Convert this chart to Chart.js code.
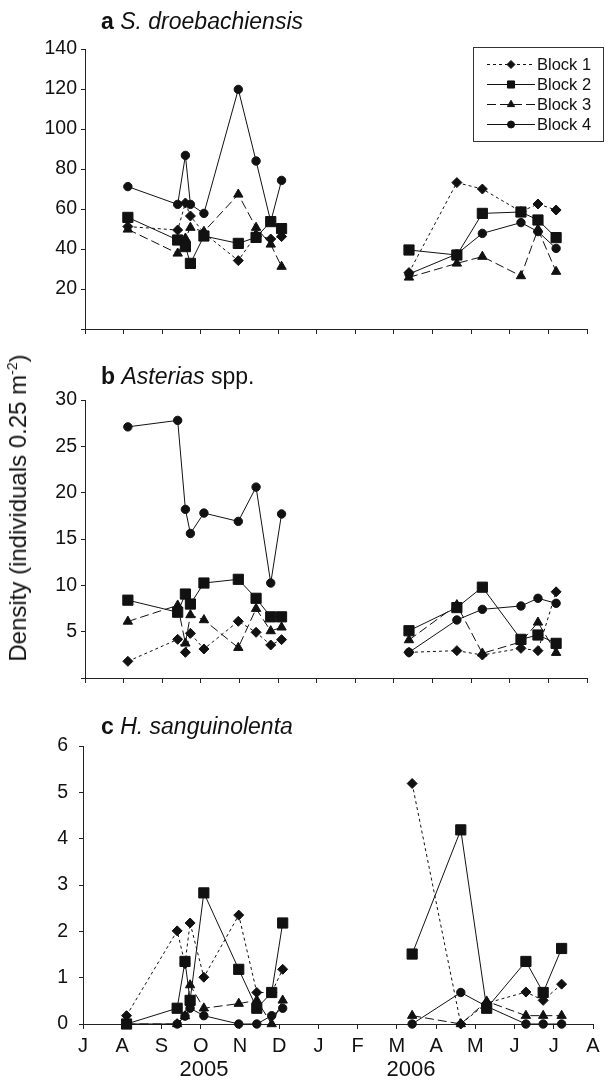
<!DOCTYPE html>
<html>
<head>
<meta charset="utf-8">
<script src="https://cdn.jsdelivr.net/npm/chart.js@4.4.1/dist/chart.umd.min.js"></script>
<style>
  body {
    margin: 0;
    width: 605px;
    height: 1081px;
    position: relative;
    overflow: hidden;
    background: #fff;
    color: #111;
    font-family: "Liberation Sans", Arial, sans-serif;
  }
  canvas { position: absolute; left: 0; }
  .title {
    position: absolute;
    left: 101px;
    font-size: 23px;
    line-height: 23px;
    white-space: nowrap;
  }
  .year {
    position: absolute;
    font-size: 22px;
    line-height: 22px;
    transform: translateX(-50%);
  }
  #yTitle {
    position: absolute;
    left: 18px;
    top: 508px;
    font-size: 24px;
    line-height: 24px;
    white-space: nowrap;
    transform: translate(-50%, -50%) rotate(-90deg);
  }
  #yTitle sup { font-size: 14px; vertical-align: 9px; line-height: 0; }
</style>
</head>
<body>

<canvas id="panelA" width="605" height="345" style="top:0px"></canvas>
<canvas id="panelB" width="605" height="350" style="top:345px"></canvas>
<canvas id="panelC" width="605" height="386" style="top:695px"></canvas>

<div class="title" style="top:10px"><b>a</b> <i>S. droebachiensis</i></div>
<div class="title" style="top:365px"><b>b</b> <i>Asterias</i> spp.</div>
<div class="title" style="top:715px"><b>c</b> <i>H. sanguinolenta</i></div>
<div id="yTitle">Density (individuals 0.25 m<sup>-2</sup>)</div>
<div class="year" style="left:204px; top:1058px">2005</div>
<div class="year" style="left:411px; top:1058px">2006</div>

<script>
// x axis: months since 1 July 2005
const monthLetters = ["J", "A", "S", "O", "N", "D", "J", "F", "M", "A", "M", "J", "J", "A"];
const sampleMonths = [1.11, 2.40, 2.60, 2.73, 3.08, 3.97, 4.43, 4.81, 5.09,
                      8.39, 9.63, 10.29, 11.29, 11.73, 12.20];
const blockNames = ["Block 1", "Block 2", "Block 3", "Block 4"];

// a S. droebachiensis
const urchinBlock1 = [51.2, 49.5, 63, 56.5, 48, 34.2, 47, 45, 46.2, 28.2, 73.2, 70, 58.7, 62.5, 59.5];
const urchinBlock2 = [55.8, 44.5, 41.2, 32.8, 46.5, 42.8, 45.8, 53.7, 50.2, 39.5, 37, 57.8, 58.5, 54.5, 45.7];
const urchinBlock3 = [49.8, 37.8, 45.3, 50.7, 48.7, 67.3, 50.7, 42.3, 31.2, 25.8, 32.8, 36.2, 26.5, 49.8, 28.7];
const urchinBlock4 = [71.2, 62.3, 86.8, 62.3, 57.8, 119.8, 84, 53.7, 74.3, 27.5, 37.5, 47.8, 53.2, 48.7, 40.3];

// b Asterias spp.
const starBlock1 = [1.8, 4.17, 2.77, 4.82, 3.13, 6.12, 4.93, 3.56, 4.14, 2.77, 2.95, 2.48, 3.2, 2.95, 9.3];
const starBlock2 = [8.4, 7.1, 9.06, 7.98, 10.25, 10.65, 8.6, 6.6, 6.6, 5.1, 7.6, 9.8, 4.17, 4.64, 3.74];
const starBlock3 = [6.1, 7.84, 3.74, 6.8, 6.26, 3.27, 7.48, 5.07, 5.47, 4.1, 7.88, 2.66, 3.9, 6.0, 2.73];
const starBlock4 = [27.1, 27.8, 18.2, 15.6, 17.8, 16.9, 20.6, 10.25, 17.7, 2.77, 6.26, 7.41, 7.77, 8.6, 8.06];

// c H. sanguinolenta
const slugBlock1 = [0.18, 2.01, 1.3, 2.18, 1.01, 2.35, 0.68, 0.68, 1.18, 5.19, 0, 0.45, 0.69, 0.51, 0.86];
const slugBlock2 = [0, 0.34, 1.35, 0.51, 2.83, 1.18, 0.34, 0.68, 2.18, 1.51, 4.19, 0.34, 1.35, 0.68, 1.63];
const slugBlock3 = [0, 0, 0.17, 0.84, 0.34, 0.44, 0.51, 0, 0.51, 0.18, 0, 0.49, 0.18, 0.18, 0.18];
const slugBlock4 = [0, 0, 0.17, 0.34, 0.18, 0, 0, 0.18, 0.34, 0, 0.68, 0.38, 0, 0, 0];

const ink = "#111";
const fontFamily = "'Liberation Sans', Arial, sans-serif";
const blockStyles = [
  { pointStyle: "rectRot", radius: 5, dash: [3, 3], legendRadius: 4 },
  { pointStyle: "rect", radius: 7.2, dash: [], legendRadius: 5 },
  { pointStyle: "triangle", radius: 5.4, dash: [9, 4], legendRadius: 4.2 },
  { pointStyle: "circle", radius: 4.2, dash: [], legendRadius: 3.5 }
];

// break the lines over the winter (no sampling)
function toPoints(values) {
  const pts = [];
  values.forEach((v, i) => {
    if (i > 0 && sampleMonths[i] - sampleMonths[i - 1] > 2) {
      pts.push({ x: (sampleMonths[i] + sampleMonths[i - 1]) / 2, y: null });
    }
    pts.push({ x: sampleMonths[i], y: v });
  });
  return pts;
}

// legend drawn as in the original: line sample + marker inside a box
const boxLegend = {
  id: "boxLegend",
  afterDraw(chart) {
    if (!chart.options.plugins.boxLegend.show) return;
    const ctx = chart.ctx;
    ctx.save();
    ctx.strokeStyle = "#333";
    ctx.lineWidth = 1;
    ctx.strokeRect(473.5, 47.5, 130, 94);
    ctx.font = "16.5px " + fontFamily;
    ctx.textBaseline = "middle";
    chart.data.datasets.forEach((ds, i) => {
      const y = 64.5 + i * 20;
      ctx.strokeStyle = ink;
      ctx.fillStyle = ink;
      ctx.setLineDash(blockStyles[i].dash);
      ctx.beginPath();
      ctx.moveTo(487, y);
      ctx.lineTo(535, y);
      ctx.stroke();
      ctx.setLineDash([]);
      Chart.helpers.drawPoint(ctx, {
        pointStyle: blockStyles[i].pointStyle,
        radius: blockStyles[i].legendRadius,
        rotation: 0,
        borderWidth: 1
      }, 511, y);
      ctx.fillText(ds.label, 537, y + 1);
    });
    ctx.restore();
  }
};

function makePanel(id, series, yMax, yStep, cfg) {
  return new Chart(document.getElementById(id), {
    type: "line",
    data: {
      datasets: series.map((vals, i) => ({
        label: blockNames[i],
        data: toPoints(vals),
        borderColor: ink,
        backgroundColor: ink,
        borderWidth: 1,
        borderDash: blockStyles[i].dash,
        pointStyle: blockStyles[i].pointStyle,
        pointRadius: blockStyles[i].radius,
        pointBorderWidth: 1,
        pointBorderColor: ink,
        pointBackgroundColor: ink,
        spanGaps: false,
        tension: 0,
        clip: false
      }))
    },
    options: {
      responsive: false,
      animation: false,
      layout: { padding: { left: 0, right: cfg.right, top: cfg.top, bottom: 0 } },
      plugins: {
        legend: { display: false },
        tooltip: { enabled: false },
        boxLegend: { show: !!cfg.legend }
      },
      scales: {
        x: {
          type: "linear",
          min: 0,
          max: 13,
          afterFit: (s) => { s.height = cfg.xHeight; },
          ticks: {
            stepSize: 1,
            display: !!cfg.months,
            autoSkip: false,
            maxRotation: 0,
            padding: 5,
            color: ink,
            font: { size: 20, family: fontFamily },
            callback: (v) => monthLetters[v]
          },
          grid: { drawOnChartArea: false, tickLength: 5, color: "#222" },
          border: { color: "#222", width: 1 }
        },
        y: {
          min: 0,
          max: yMax,
          afterFit: (s) => { s.width = cfg.yWidth; },
          ticks: {
            stepSize: yStep,
            padding: cfg.yPad,
            color: ink,
            font: { size: 19.5, family: fontFamily },
            callback: (v) => (v === 0 && !cfg.zero ? "" : v)
          },
          grid: { drawOnChartArea: false, tickLength: 4, color: "#222" },
          border: { color: "#222", width: 1 }
        }
      }
    },
    plugins: [boxLegend]
  });
}

makePanel("panelA", [urchinBlock1, urchinBlock2, urchinBlock3, urchinBlock4], 140, 20,
  { top: 49, right: 18, xHeight: 16, yWidth: 85, yPad: 4, legend: true });
makePanel("panelB", [starBlock1, starBlock2, starBlock3, starBlock4], 30, 5,
  { top: 55, right: 18, xHeight: 17, yWidth: 85, yPad: 4 });
makePanel("panelC", [slugBlock1, slugBlock2, slugBlock3, slugBlock4], 6, 1,
  { top: 51, right: 12, xHeight: 57, yWidth: 83, yPad: 11, months: true, zero: true });
</script>
</body>
</html>
